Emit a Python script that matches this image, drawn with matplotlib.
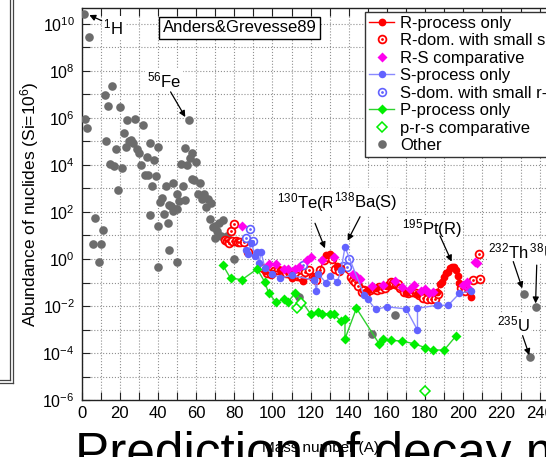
import numpy as np
import matplotlib
matplotlib.use('Agg')
import matplotlib.pyplot as plt
from matplotlib.lines import Line2D
from matplotlib.ticker import MultipleLocator, FixedLocator, FuncFormatter, NullLocator

plt.rcParams['font.family'] = ['Liberation Sans', 'DejaVu Sans']
plt.rcParams['mathtext.fontset'] = 'custom'
plt.rcParams['mathtext.rm'] = 'Liberation Sans'
plt.rcParams['mathtext.it'] = 'Liberation Sans:italic'
plt.rcParams['mathtext.bf'] = 'Liberation Sans:bold'

# solar abundances (Si = 1e6), grouped by origin
other_A = [1, 2, 3, 4, 6, 7, 9, 10, 11, 12,
           13, 14, 15, 16, 17, 18, 19, 20, 21, 22,
           23, 24, 25, 26, 27, 28, 29, 30, 31, 32,
           33, 34, 35, 36, 36, 37, 38, 39, 40, 40,
           40, 41, 42, 43, 44, 45, 46, 46, 47, 48,
           48, 49, 50, 50, 50, 51, 52, 53, 54, 54,
           55, 56, 57, 58, 58, 59, 60, 61, 62, 63,
           64, 64, 65, 66, 67, 68, 69, 70, 70, 71,
           72, 73, 74, 76, 80, 114, 152, 164, 232, 235,
           238]
other_N = [2.79e10, 9.5e5, 3.9e5, 2.72e9, 4.3, 53, 0.73, 4.2, 17, 9.9e6,
           1.1e5, 3.1e6, 1.15e4, 2.37e7, 9.0e3, 4.8e4, 843, 3.06e6, 7.3e3, 2.25e5,
           5.7e4, 8.5e5, 1.07e5, 1.18e5, 8.5e4, 9.2e5, 4.7e4, 3.1e4, 1.04e4, 4.9e5,
           3.9e3, 2.2e4, 3.9e3, 8.5e4, 77, 1.3e3, 1.6e4, 3.5e3, 5.9e4, 25,
           0.44, 255, 395, 82, 1.27e3, 34, 2.4, 192, 175, 114,
           1.77e3, 132, 130, 0.73, 587, 292, 1.13e4, 1.28e3, 319, 5.2e4,
           9.55e3, 8.26e5, 1.9e4, 2.5e3, 3.37e4, 2.25e3, 1.29e4, 560, 1.77e3, 361,
           450, 612, 161, 350, 52, 237, 22.7, 7.8, 24.4, 15.1,
           32.6, 9.3, 43.6, 9.3, 1.0, 0.025, 6.6e-4, 4.0e-3, 0.0335, 6.5e-5,
           9.0e-3]

r_only_A = [96, 100, 104, 110, 116, 122, 124, 128, 130, 134,
            136, 150, 154, 160, 170, 176, 186, 188, 189, 190,
            191, 192, 193, 194, 195, 196, 197, 198, 204]
r_only_N = [0.319, 0.246, 0.348, 0.163, 0.121, 0.177, 0.221, 1.52, 1.63, 0.489,
            0.418, 0.0467, 0.0586, 0.0721, 0.0374, 0.0315, 0.038, 0.0898, 0.109, 0.178,
            0.247, 0.277, 0.414, 0.441, 0.453, 0.339, 0.187, 0.0965, 0.0231]

r_dom_A = [75, 76, 77, 78, 79, 80, 81, 82, 83, 85,
           87, 95, 97, 99, 101, 103, 105, 107, 109, 111,
           113, 115, 117, 119, 121, 123, 125, 127, 129, 131,
           133, 135, 141, 142, 143, 145, 147, 148, 149, 151,
           153, 155, 156, 157, 159, 161, 162, 163, 165, 166,
           167, 169, 171, 173, 175, 177, 179, 181, 183, 185,
           187, 199, 201, 205, 208, 209]
r_dom_N = [6.56, 5.81, 4.74, 14.8, 5.98, 30.8, 5.82, 5.42, 5.17, 5.12,
           1.97, 0.406, 0.244, 0.236, 0.316, 0.344, 0.31, 0.252, 0.234, 0.206,
           0.197, 0.176, 0.293, 0.328, 0.177, 0.132, 0.343, 0.90, 1.24, 0.996,
           0.372, 0.296, 0.167, 0.126, 0.101, 0.0687, 0.0387, 0.0477, 0.0356, 0.0465,
           0.0508, 0.0488, 0.0675, 0.0516, 0.0603, 0.0746, 0.1005, 0.0981, 0.0889, 0.0843,
           0.0576, 0.0378, 0.0355, 0.04, 0.0357, 0.0286, 0.021, 0.0207, 0.019, 0.0193,
           0.0324, 0.0578, 0.0449, 0.13, 1.65, 0.144]

rs_A = [84, 98, 102, 106, 108, 112, 114, 118, 120, 126,
        132, 142, 144, 146, 152, 158, 164, 168, 172, 174,
        178, 180, 182, 184, 200, 202, 203, 206, 207]
rs_N = [25.7, 0.615, 0.588, 0.38, 0.368, 0.388, 0.463, 0.925, 1.245, 0.911,
        1.264, 0.2246, 0.197, 0.142, 0.0689, 0.082, 0.111, 0.0672, 0.0543, 0.0788,
        0.042, 0.054, 0.035, 0.0408, 0.0785, 0.1008, 0.0543, 0.759, 0.697]

s_only_A = [86, 87, 89, 91, 92, 93, 94, 96, 100, 104,
            110, 122, 123, 124, 128, 130, 134, 136, 138, 148,
            150, 154, 160, 170, 176, 176, 186, 187, 192, 198,
            204]
s_only_N = [2.32, 1.64, 4.64, 1.28, 1.96, 0.698, 1.98, 0.425, 0.234, 0.155,
            0.201, 0.125, 0.0437, 0.232, 0.0987, 0.193, 0.108, 0.353, 3.22, 0.0292,
            0.0191, 0.0072, 0.0092, 0.00756, 0.00095, 0.008, 0.0107, 0.0108, 0.0106, 0.0343,
            0.0441]

s_dom_A = [86, 88, 90, 116, 137, 139, 140]
s_dom_N = [7.8, 19.4, 5.87, 0.555, 0.504, 0.446, 1.005]

p_only_A = [74, 78, 84, 92, 96, 98, 102, 106, 108, 112,
            120, 124, 126, 130, 132, 136, 138, 138, 144, 156,
            158, 162, 168, 174, 180, 184, 190, 196]
p_only_N = [0.55, 0.153, 0.132, 0.378, 0.103, 0.035, 0.0142, 0.0201, 0.0143, 0.037,
            0.0046, 0.0057, 0.0047, 0.00476, 0.00453, 0.0022, 0.0029, 0.0004, 0.008, 0.00024,
            0.00039, 0.00035, 0.00032, 0.00025, 0.00017, 0.000135, 0.000134, 0.00051]

prs_A = [113, 115, 180]
prs_N = [0.0079, 0.0129, 2.5e-6]

RED = '#ff0000'
MAG = '#ff00ee'
BLUE = '#6262ff'
BLUE_LINE = '#8a8aff'
GREEN = '#00ee00'
GREEN_LINE = '#30d030'
GRAY = '#6c6c6c'

fig = plt.figure(figsize=(5.46, 4.57), dpi=100)
ax = fig.add_axes([0.1496, 0.1247, 0.8736, 0.8578])
ax.set_yscale('log')
ax.set_xlim(0, 250)
ax.set_ylim(1e-6, 10 ** 10.68)

h_other, = ax.plot(other_A, other_N, 'o', color=GRAY, ms=6.2, mec='none', zorder=3)
h_rdom = ax.plot(r_dom_A, r_dom_N, 'o', mfc='white', mec=RED, mew=1.3, ms=5.6, zorder=4)[0]
h_rdot = ax.plot(r_dom_A, r_dom_N, 'o', color=RED, mec='none', ms=2.0, zorder=4)[0]
h_ronly, = ax.plot(r_only_A, r_only_N, '-o', color=RED, lw=1, ms=5.6, mec='none', zorder=5)
h_rs, = ax.plot(rs_A, rs_N, 'D', color=MAG, ms=5.3, mec='none', zorder=5)
h_sdom = ax.plot(s_dom_A, s_dom_N, 'o', mfc='white', mec=BLUE, mew=1.2, ms=5.6, zorder=4)[0]
h_sdot = ax.plot(s_dom_A, s_dom_N, 'o', color=BLUE, mec='none', ms=2.0, zorder=4)[0]
h_sonly, = ax.plot(s_only_A, s_only_N, '-o', color=BLUE_LINE, mfc=BLUE, mec='none',
                   lw=1, ms=5.4, zorder=5)
h_ponly, = ax.plot(p_only_A, p_only_N, '-D', color=GREEN_LINE, mfc=GREEN, mec='none',
                   lw=1, ms=5.6, zorder=5)
h_prs, = ax.plot(prs_A, prs_N, 'D', mfc='white', mec=GREEN, mew=1.1, ms=5.0, zorder=5)

# axes cosmetics
ax.xaxis.set_major_locator(MultipleLocator(20))
ax.xaxis.set_minor_locator(MultipleLocator(10))
ax.yaxis.set_major_locator(FixedLocator(10.0 ** np.arange(-6, 11)))
ax.yaxis.set_minor_locator(NullLocator())


def dec_label(v, pos):
    e = int(round(np.log10(v)))
    return r'$\mathdefault{10^{%d}}$' % e if e % 2 == 0 else ''


ax.yaxis.set_major_formatter(FuncFormatter(dec_label))
ax.tick_params(which='both', direction='in', length=6, width=0.8, top=True, right=True,
               color='#222222')
ax.tick_params(axis='x', labelsize=12, pad=4)
ax.tick_params(axis='y', labelsize=11.5, pad=5)
ax.grid(True, which='both', axis='x', ls=':', color='#909090', lw=0.8)
ax.grid(True, which='major', axis='y', ls=':', color='#909090', lw=0.8)
ax.set_axisbelow(True)
for sp in ax.spines.values():
    sp.set_linewidth(1.0)
    sp.set_color('#222222')

ax.set_xlabel('Mass number (A)', fontsize=11)
ax.xaxis.set_label_coords(0.5, -0.105)
ax.set_ylabel(r'Abundance of nuclides (Si=10$^6$)', fontsize=12.5)
ax.yaxis.set_label_coords(-0.085, 0.5)

ax.text(0.331, 0.949, 'Anders&Grevesse89', transform=ax.transAxes, fontsize=12,
        ha='center', va='center', zorder=8,
        bbox=dict(boxstyle='square,pad=0.2', fc='white', ec='black', lw=1))

leg = ax.legend([h_ronly, (h_rdom, h_rdot), h_rs, h_sonly, (h_sdom, h_sdot),
                 h_ponly, h_prs, h_other],
                ['R-process only', 'R-dom. with small s-process', 'R-S comparative',
                 'S-process only', 'S-dom. with small r-process', 'P-process only',
                 'p-r-s comparative', 'Other'],
                loc='upper left', bbox_to_anchor=(0.594, 0.991), borderaxespad=0,
                fontsize=12, handlelength=1.5, handletextpad=0.35, borderpad=0.25,
                labelspacing=0.15, fancybox=False, framealpha=1, edgecolor='#333333')
leg.get_frame().set_linewidth(1.0)
leg.set_zorder(9)

# isotope labels (drawn in order so later boxes cover earlier ones)
iso_labels = [
    (r'$^{1}$H', 11.3, 10 ** 9.57),
    (r'$^{56}$Fe', 34.1, 10 ** 7.31),
    (r'$^{130}$Te(R)', 102.2, 10 ** 2.16),
    (r'$^{138}$Ba(S)', 132.2, 10 ** 2.2),
    (r'$^{195}$Pt(R)', 167.7, 10 ** 1.06),
    (r'$^{238}$U', 231.3, 10 ** 0.03),
    (r'$^{232}$Th', 213.1, 10 ** 0.03),
    (r'$^{235}$U', 217.5, 10 ** -3.09),
]
for txt, a, y in iso_labels:
    ax.text(a, y, txt, fontsize=12, ha='left', va='baseline', zorder=7,
            bbox=dict(boxstyle='square,pad=0.1', fc='white', ec='none'))

arrows = [
    ((10.5, 10 ** 10.14), (4.0, 10 ** 10.38)),
    ((46.6, 10 ** 7.11), (54.3, 10 ** 6.04)),
    ((122.3, 10 ** 1.52), (127.5, 10 ** 0.455)),
    ((145.9, 10 ** 1.8), (139.4, 10 ** 0.78)),
    ((187.8, 10 ** 0.98), (193.9, 10 ** -0.11)),
    ((226.2, 10 ** -0.11), (230.9, 10 ** -1.25)),
    ((238.5, 10 ** -0.26), (237.9, 10 ** -1.89)),
    ((231.1, 10 ** -3.26), (234.6, 10 ** -4.09)),
]
for tail, head in arrows:
    ax.annotate('', xy=head, xytext=tail, zorder=8,
                arrowprops=dict(arrowstyle='-|>', color='black', lw=0.9,
                                mutation_scale=9, shrinkA=0, shrinkB=0))

# slide frame and title underneath the chart
for x, yb in ((10.0, 380.0), (12.7, 383.0)):
    fig.add_artist(Line2D([x / 546, x / 546], [1, 1 - yb / 457],
                          transform=fig.transFigure, color='#444444', lw=0.9))
    fig.add_artist(Line2D([0, x / 546], [1 - yb / 457, 1 - yb / 457],
                          transform=fig.transFigure, color='#444444', lw=0.9))
fig.text(0.137, -0.026, 'Prediction of decay mode', fontsize=37, ha='left', va='baseline')

fig.savefig('out.png', dpi=100)
